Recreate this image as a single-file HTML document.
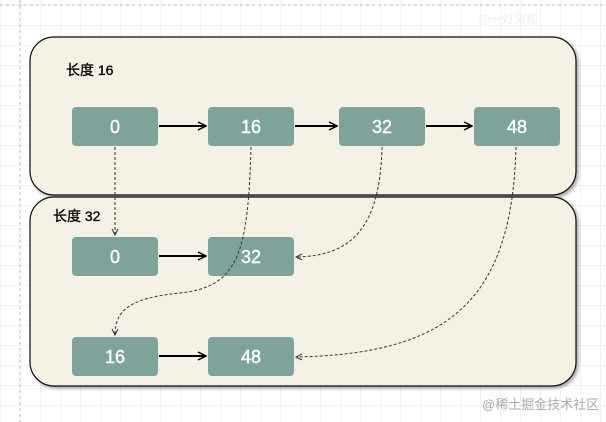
<!DOCTYPE html>
<html><head><meta charset="utf-8"><style>
html,body{margin:0;padding:0;width:606px;height:422px;overflow:hidden;background:#fff}
</style></head><body>
<svg width="606" height="422" xmlns="http://www.w3.org/2000/svg" font-family="Liberation Sans, Noto Sans CJK SC, sans-serif">
<defs>
<pattern id="g" x="20" y="5" width="20" height="20" patternUnits="userSpaceOnUse">
<path d="M0 0H20M0 0V20" stroke="#e4e4e4" stroke-width="1" fill="none"/>
</pattern>
<marker id="a" markerWidth="10" markerHeight="10" refX="9" refY="5" orient="auto" markerUnits="userSpaceOnUse"><path d="M1 1L9 5L1 9" fill="none" stroke="#000" stroke-width="1.5"/></marker>
<marker id="d" markerWidth="8" markerHeight="8" refX="7" refY="4" orient="auto" markerUnits="userSpaceOnUse"><path d="M1 1L7 4L1 7" fill="none" stroke="#333" stroke-width="1"/></marker>
<filter id="s"><feDropShadow dx="2" dy="2" stdDeviation="1.5" flood-color="#000" flood-opacity="0.35"/></filter>
</defs>
<rect width="606" height="422" fill="url(#g)"/>
<line x1="20" y1="0" x2="20" y2="422" stroke="#bbb" stroke-dasharray="3 3"/>
<line x1="0" y1="5" x2="606" y2="5" stroke="#bbb" stroke-dasharray="3 3"/>
<text x="478" y="23" font-size="12" fill="#eee">@一灯架构</text>
<rect x="30" y="37" width="546" height="158" rx="24" fill="#f5f1e4" stroke="#111" stroke-width="1.2" filter="url(#s)"/>
<rect x="30" y="197" width="546" height="189" rx="24" fill="#f5f1e4" stroke="#111" stroke-width="1.2" filter="url(#s)"/>
<text x="66" y="75" font-size="14" fill="#000" stroke="#000" stroke-width="0.3">长度 16</text>
<text x="53" y="221" font-size="14" fill="#000" stroke="#000" stroke-width="0.3">长度 32</text>
<g fill="#7ea39b">
<rect x="72" y="107" width="86" height="39" rx="4"/>
<rect x="208" y="107" width="86" height="39" rx="4"/>
<rect x="339" y="107" width="86" height="39" rx="4"/>
<rect x="474" y="107" width="86" height="39" rx="4"/>
<rect x="72" y="237" width="86" height="39" rx="4"/>
<rect x="208" y="237" width="86" height="39" rx="4"/>
<rect x="72" y="337" width="86" height="39" rx="4"/>
<rect x="208" y="337" width="86" height="39" rx="4"/>
</g>
<g fill="#fff" font-size="18" text-anchor="middle" stroke="#fff" stroke-width="0.4">
<text x="115" y="133">0</text><text x="251" y="133">16</text><text x="382" y="133">32</text><text x="517" y="133">48</text>
<text x="115" y="263">0</text><text x="251" y="263">32</text>
<text x="115" y="363">16</text><text x="251" y="363">48</text>
</g>
<g stroke="#000" stroke-width="2" marker-end="url(#a)">
<line x1="159" y1="126" x2="206" y2="126"/>
<line x1="295" y1="126" x2="337" y2="126"/>
<line x1="426" y1="126" x2="472" y2="126"/>
<line x1="159" y1="256" x2="206" y2="256"/>
<line x1="159" y1="356" x2="206" y2="356"/>
</g>
<g stroke="#333" stroke-width="1" stroke-dasharray="3 2" fill="none" marker-end="url(#d)">
<path d="M115 147V235"/>
<path d="M251 147C248 250 240 287 180 293C130 298 115 310 115 335"/>
<path d="M382 147C380 230 350 256 296 257"/>
<path d="M516 147C512 300 450 354 296 357"/>
</g>
<text x="482" y="409" font-size="13" fill="#aaa">@稀土掘金技术社区</text>
</svg>
</body></html>
